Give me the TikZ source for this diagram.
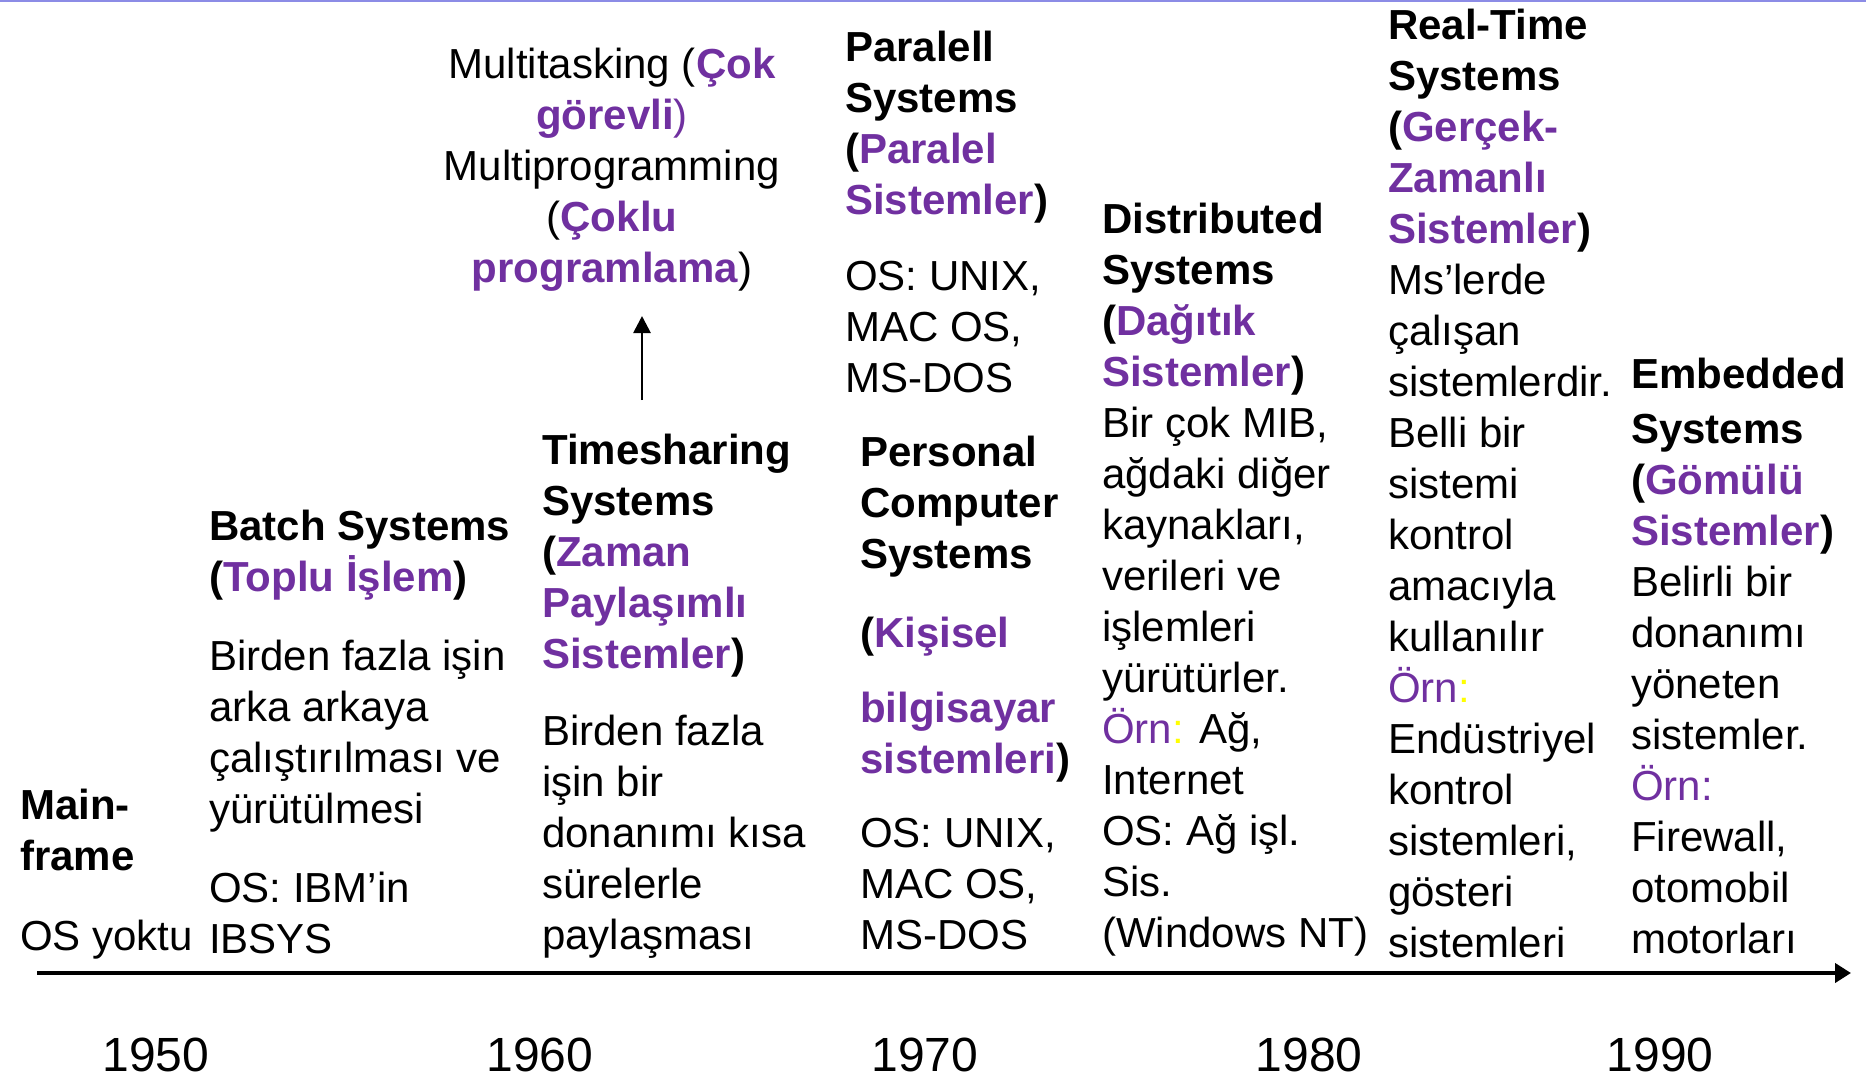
\documentclass[tikz,border=0pt]{standalone}
\usepackage{fontspec}
\setmainfont{Liberation Sans}
\usetikzlibrary{arrows.meta}
\definecolor{trpurple}{HTML}{7030A0}
\definecolor{hlyellow}{HTML}{FFFF00}
\definecolor{slideline}{HTML}{8C8CE6}
\newcommand{\purp}[1]{\textcolor{trpurple}{#1}}
\begin{document}
\begin{tikzpicture}[x=1pt, y=-1pt,
    block/.style={inner sep=0pt, anchor=base west, align=left, font=\fontsize{42}{51}\selectfont},
    year/.style={inner sep=0pt, anchor=base, font=\fontsize{48}{58}\selectfont}]
    \useasboundingbox (0,0) rectangle (1866,1076);
    \draw[slideline, line width=2.5pt] (0,1) -- (1866,1);
    % columns along the time line (placed at the baseline of their last line)
    \node[block] (mainframe) at (20,950) {\textbf{Main-}\\\textbf{frame}\\[29pt]OS yoktu};
    \node[block] (batch) at (209,953) {\textbf{Batch Systems}\\\textbf{(\purp{Toplu İşlem})}\\[28pt]Birden fazla işin\\arka arkaya\\çalıştırılması ve\\yürütülmesi\\[28pt]OS: IBM’in\\IBSYS};
    \node[block, anchor=base, align=center] (multitask) at (612,282) {Multitasking (\purp{\textbf{Çok}}\\\purp{\textbf{görevli})}\\Multiprogramming\\(\purp{\textbf{Çoklu}}\\\purp{\textbf{programlama}})};
    \node[block] (timeshare) at (542,949) {\textbf{Timesharing}\\\textbf{Systems}\\\textbf{(\purp{Zaman}}\\\textbf{\purp{Paylaşımlı}}\\\textbf{\purp{Sistemler})}\\[26pt]Birden fazla\\işin bir\\donanımı kısa\\sürelerle\\paylaşması};
    \node[block] (parallel) at (845,392) {\textbf{Paralell}\\\textbf{Systems}\\\textbf{(\purp{Paralel}}\\\textbf{\purp{Sistemler})}\\[25pt]OS: UNIX,\\MAC OS,\\MS-DOS};
    \node[block] (personal) at (860,949) {\textbf{Personal}\\\textbf{Computer}\\\textbf{Systems}\\[28pt]\textbf{(\purp{Kişisel}}\\[24pt]\textbf{\purp{bilgisayar}}\\\textbf{\purp{sistemleri})}\\[23pt]OS: UNIX,\\MAC OS,\\MS-DOS};
    \node[block] (distributed) at (1102,947) {\textbf{Distributed}\\\textbf{Systems}\\\textbf{(\purp{Dağıtık}}\\\textbf{\purp{Sistemler})}\\Bir çok MIB,\\ağdaki diğer\\kaynakları,\\verileri ve\\işlemleri\\yürütürler.\\\purp{Örn}\textcolor{hlyellow}{:} Ağ,\\Internet\\OS: Ağ işl.\\Sis.\\(Windows NT)};
    \node[block] (realtime) at (1388,957) {\textbf{Real-Time}\\\textbf{Systems}\\\textbf{(\purp{Gerçek-}}\\\textbf{\purp{Zamanlı}}\\\textbf{\purp{Sistemler})}\\Ms’lerde\\çalışan\\sistemlerdir.\\Belli bir\\sistemi\\kontrol\\amacıyla\\kullanılır\\\purp{Örn}\textcolor{hlyellow}{:}\\Endüstriyel\\kontrol\\sistemleri,\\gösteri\\sistemleri};
    \node[block] (embedded) at (1631,953) {\textbf{Embedded}\\[4pt]\textbf{Systems}\\\textbf{(\purp{Gömülü}}\\\textbf{\purp{Sistemler})}\\Belirli bir\\donanımı\\yöneten\\sistemler.\\\purp{Örn:}\\Firewall,\\otomobil\\motorları};
    % small arrow from timesharing up to multitasking
    \coordinate (arrtail) at (642,400);
    \coordinate (arrhead) at (642,316);
    \draw[line width=2.7pt, -{Triangle[length=17pt,width=17pt]}] (arrtail) -- (arrhead);
    % time axis
    \coordinate (axstart) at (37,973);
    \coordinate (axend) at (1851,973);
    \draw[line width=4pt, -{Triangle[length=16pt,width=19pt]}] (axstart) -- (axend);
    \foreach \yr/\xx in {1950/156, 1960/540, 1970/925, 1980/1309, 1990/1660}
        \node[year] (y\yr) at (\xx,1071) {\yr};
\end{tikzpicture}
\end{document}
